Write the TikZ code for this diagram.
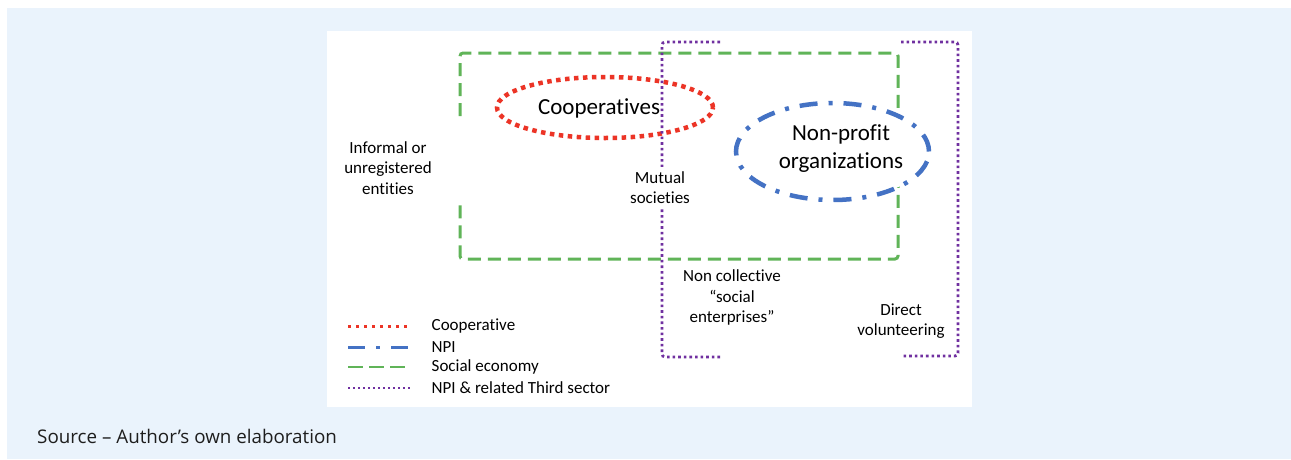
\documentclass[tikz,border=0pt]{standalone}
\usepackage{fontspec}
\setmainfont{Open Sans}
\newfontfamily\calibri[Ligatures={TeX,NoCommon}]{Carlito}
\definecolor{bgblue}{RGB}{234,243,252}
\definecolor{coopred}{RGB}{236,52,38}
\definecolor{npiblue}{RGB}{68,114,196}
\definecolor{segreen}{RGB}{96,180,88}
\definecolor{tspurple}{RGB}{112,48,160}
\begin{document}
\begin{tikzpicture}[x=1pt,y=-1pt,
  smalltxt/.style={font=\calibri\fontsize{17}{20.5}\selectfont, align=center, inner sep=0pt, text=black},
  bigtxt/.style={font=\calibri\fontsize{23}{28}\selectfont, align=center, inner sep=0pt, text=black},
  legtxt/.style={font=\calibri\fontsize{17}{20.5}\selectfont, anchor=west, inner sep=0pt, text=black},
  coopline/.style={draw=coopred, line width=4.5pt, dash pattern=on 4.5pt off 4.5pt},
  npiline/.style={draw=npiblue, line width=4.5pt, dash pattern=on 18pt off 11pt on 4pt off 11pt},
  seline/.style={draw=segreen, line width=3pt, dash pattern=on 13pt off 7pt},
  tsline/.style={draw=tspurple, line width=2.8pt, dash pattern=on 2.6pt off 3pt},
  ]
\useasboundingbox (0,0) rectangle (1291,459);
% backgrounds
\fill[bgblue] (7,8) rectangle (1291,459);
\fill[white] (327,31) rectangle (972,407);

% social economy (green dashed rectangle, with gap on the left side)
\draw[seline, rounded corners=3pt] (460,116) -- (460,53) -- (898,53) -- (898,259) -- (460,259) -- (460,200);

% non-profit organizations (blue dash-dot ellipse, white filled)
\filldraw[npiline, fill=white] (832.5,151.5) ellipse [x radius=96.5pt, y radius=48.5pt];

% cooperatives (red dotted ellipse)
\draw[coopline] (605,107.5) ellipse [x radius=108pt, y radius=30.5pt];

% NPI & related third sector brackets (purple dotted)
\coordinate (lb1) at (720,42);
\coordinate (lb2) at (662,42);
\coordinate (lb3) at (662,357);
\coordinate (lb4) at (720,357);
\draw[tsline, rounded corners=3pt] (lb1) -- (lb2) -- (lb3) -- (lb4);
\coordinate (rb1) at (901,42);
\coordinate (rb2) at (958,42);
\coordinate (rb3) at (958,356);
\coordinate (rb4) at (901,356);
\draw[tsline, rounded corners=3pt] (rb1) -- (rb2) -- (rb3) -- (rb4);

% labels
\node[bigtxt] (coop) at (599,108) {Cooperatives};
\node[bigtxt] (npo) at (841,149) {Non-profit\\organizations};
\node[smalltxt] (informal) at (388,168) {Informal or\\unregistered\\entities};
\node[smalltxt, fill=white, inner xsep=2pt, inner ysep=4pt] (mutual) at (660,187.5) {Mutual\\societies};
\node[smalltxt] (noncoll) at (732,297.5) {Non collective\\“social\\enterprises”};
\node[smalltxt] (direct) at (901,321) {Direct\\volunteering};

% legend
\coordinate (l1a) at (348,326.5); \coordinate (l1b) at (410,326.5);
\coordinate (l2a) at (348,347);   \coordinate (l2b) at (410,347);
\coordinate (l3a) at (348,367);   \coordinate (l3b) at (410,367);
\coordinate (l4a) at (348,388);   \coordinate (l4b) at (410,388);
\draw[draw=coopred, line width=3pt, dash pattern=on 3.3pt off 4.7pt] (l1a) -- (l1b);
\draw[draw=npiblue, line width=3pt, dash pattern=on 17pt off 11pt on 4pt off 11pt] (l2a) -- (l2b);
\draw[draw=segreen, line width=2.7pt, dash pattern=on 15pt off 6pt] (l3a) -- (l3b);
\draw[draw=tspurple, line width=2.4pt, dash pattern=on 2.2pt off 2.8pt] (l4a) -- (l4b);
\node[legtxt] (leg1) at (431.5,326.5) {Cooperative};
\node[legtxt] (leg2) at (431.5,347) {NPI};
\node[legtxt] (leg3) at (431.5,367) {Social economy};
\node[legtxt] (leg4) at (431.5,388) {NPI \& related Third sector};

% source
\node[anchor=base west, inner sep=0pt, font=\fontsize{18.8}{22}\selectfont, text={rgb,255:red,30;green,30;blue,30}] (source) at (37,443.5) {Source – Author’s own elaboration};
\end{tikzpicture}
\end{document}
